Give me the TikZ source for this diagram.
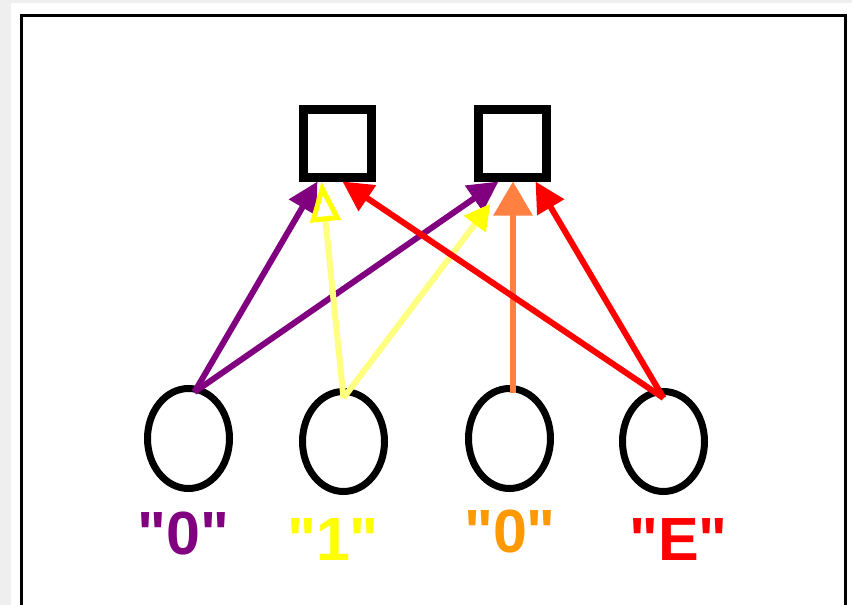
\documentclass[tikz,border=0pt]{standalone}
\usepackage{fontspec}
\setmainfont{Liberation Sans}
\usetikzlibrary{arrows.meta,shapes.geometric}
\definecolor{cpurple}{HTML}{800080}
\definecolor{cyellowline}{HTML}{FFFF80}
\definecolor{cyellow}{HTML}{FFFF00}
\definecolor{corangeline}{HTML}{FF8040}
\definecolor{corange}{HTML}{FF9900}
\definecolor{cred}{HTML}{FF0000}
\definecolor{cstrip}{HTML}{EFEFEF}
\newcommand{\qd}{\textquotedbl}
\begin{document}
\begin{tikzpicture}[x=1pt,y=-1pt,
  box/.style={draw=black,line width=9pt,minimum size=68pt,inner sep=0pt},
  oval/.style={draw=black,ellipse,line width=7pt,minimum width=82pt,minimum height=100pt,inner sep=0pt},
  lbl/.style={font=\bfseries\fontsize{61}{61}\selectfont,anchor=base,inner sep=0pt},
  conn/.style={line width=6pt},
  filledtip/.style={-{Triangle[length=30pt,width=30pt]}}]
% background and frame
\fill[white] (0,0) rectangle (852,605);
\useasboundingbox (0,0) rectangle (852,605);
\fill[cstrip] (0,0) rectangle (11,605);
\fill[cstrip] (11,0) rectangle (852,3);
\draw[line width=3pt] (21.5,605) -- (21.5,15.5) -- (845.5,15.5) -- (845.5,605);
% boxes
\node[box] (b1) at (337.5,143) {};
\node[box] (b2) at (512.5,143) {};
% ovals
\node[oval] (c1) at (188.5,438.5) {};
\node[oval] (c2) at (343.5,441.5) {};
\node[oval] (c3) at (509.5,438.5) {};
\node[oval] (c4) at (663.5,441.5) {};
% labels
\node[lbl,text=cpurple] (l1) at (183.5,554) {\qd0\qd};
\node[lbl,text=cyellow] (l2) at (333,560) {\qd1\qd};
\node[lbl,text=corange] (l3) at (510,552) {\qd0\qd};
\node[lbl,text=cred] (l4) at (678.5,560) {\qd E\qd};
% connectors
\draw[conn,cpurple,filledtip] ([xshift=6pt,yshift=-7pt]c1.north) -- ([xshift=-20pt]b1.south);
\draw[conn,cpurple,filledtip] ([xshift=6pt,yshift=-7pt]c1.north) -- ([xshift=-14pt]b2.south);
\draw[conn,cyellowline,-{Triangle[open,length=40pt,width=30pt,line width=5pt,color=cyellow]}] ([xshift=0pt,yshift=-10pt]c2.north) -- ([xshift=-16pt]b1.south);
\draw[conn,cyellowline,-{Triangle[length=26pt,width=26pt,color=cyellow]}] ([xshift=0pt,yshift=-10pt]c2.north) -- ([xshift=-22pt,yshift=-22pt]b2.south);
\draw[conn,corangeline,line width=6pt,-{Triangle[length=34pt,width=38pt]}] ([xshift=3.5pt,yshift=-8pt]c3.north) -- ([xshift=0.5pt]b2.south);
\draw[conn,cred,filledtip] ([xshift=0pt,yshift=-10pt]c4.north) -- ([xshift=5pt]b1.south);
\draw[conn,cred,filledtip] ([xshift=0pt,yshift=-10pt]c4.north) -- ([xshift=23pt]b2.south);
\end{tikzpicture}
\end{document}
